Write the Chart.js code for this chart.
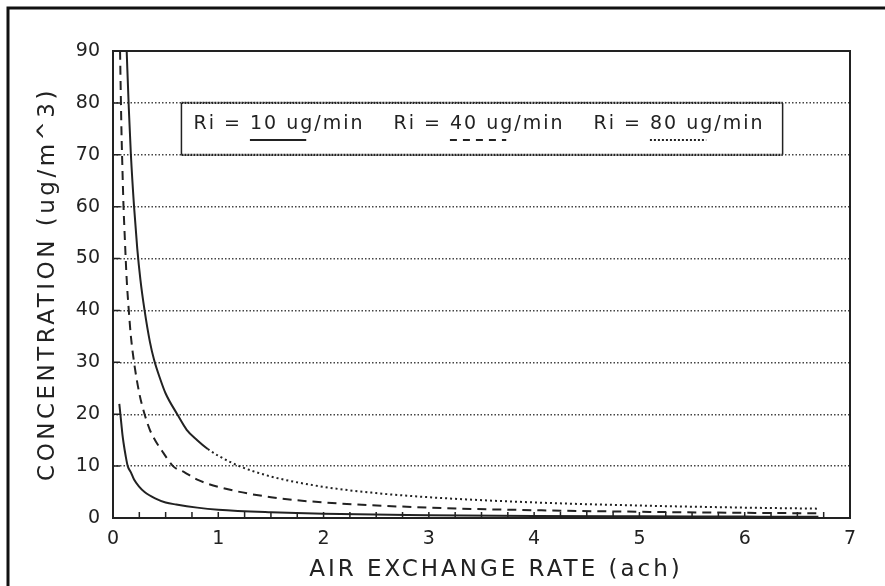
<!DOCTYPE html>
<html lang="en">
<head>
<meta charset="UTF-8">
<title>Concentration vs air exchange rate</title>
<script src="https://cdn.jsdelivr.net/npm/chart.js"></script>
<style>
  html, body { margin: 0; padding: 0; background: #fff; }
  canvas { display: block; }
</style>
</head>
<body>
<canvas id="chart" width="885" height="586"></canvas>
<script>
// values
const seriesLabels = ['10 ug/min', '40 ug/min', '80 ug/min'];

const achRi10  = [0.06, 0.07, 0.08, 0.09, 0.10, 0.12, 0.14, 0.17, 0.20, 0.25, 0.30, 0.40, 0.50, 0.60, 0.80, 1.0, 1.5, 2.0, 3.0, 4.0, 5.0, 6.0, 6.7];
const concRi10 = [22,   20,   18,   16,   14.5, 12,   10,   8.8,  7.4,  6.0,  5.0,  3.8,  3.0,  2.6,  2.0,  1.6, 1.1, 0.8, 0.55, 0.4, 0.32, 0.27, 0.24];

const achRi40  = [0.067, 0.08, 0.09, 0.10, 0.11, 0.13, 0.15, 0.17, 0.20, 0.25, 0.30, 0.35, 0.40, 0.48, 0.57, 0.68, 0.80, 1.0, 1.5, 2.0, 3.0, 4.0, 5.0, 6.0, 6.7];
const concRi40 = [90,    75,   67,   60,   55,   46,   40,   35,   30,   24,   20,   17,   15,   12.5, 10,   8.8,  7.4,  6.0, 4.0, 3.0, 2.0, 1.5, 1.2, 1.0, 0.9];

const achRi80  = [0.13, 0.15, 0.17, 0.20, 0.23, 0.26, 0.30, 0.35, 0.39, 0.45, 0.50, 0.61, 0.70, 0.80, 0.90, 1.0, 1.2, 1.5, 2.0, 2.5, 3.0, 4.0, 5.0, 6.0, 6.7];
const concRi80 = [90,   79,   70,   60,   52,   46,   40,   34,   30.5, 26.7, 24,   20,   17,   15,   13.3, 12,  10,  8.0, 6.0, 4.8, 4.0, 3.0, 2.4, 2.0, 1.8];

const xTicks = [0, 1, 2, 3, 4, 5, 6, 7];
const yTicks = [0, 10, 20, 30, 40, 50, 60, 70, 80, 90];

const ink = '#222';
const tickFont = { family: 'DejaVu Sans', size: 19 };

function pts(xs, ys) { return xs.map((x, i) => ({ x: x, y: ys[i] })); }

// frame, inner ticks, legend box, axis titles, scan border
const paperPlugin = {
  id: 'paper',
  afterDatasetsDraw(chart) {
    const { ctx, chartArea: a, scales: { x, y } } = chart;
    ctx.save();
    ctx.strokeStyle = ink;
    ctx.lineWidth = 2;
    ctx.strokeRect(a.left, a.top, a.right - a.left, a.bottom - a.top);

    // inner ticks
    ctx.lineWidth = 1.5;
    ctx.beginPath();
    for (let v = 0.25; v < 7; v += 0.25) {
      const px = x.getPixelForValue(v);
      ctx.moveTo(px, a.bottom); ctx.lineTo(px, a.bottom - 6);
    }
    yTicks.slice(1, -1).forEach(v => {
      const py = y.getPixelForValue(v);
      ctx.moveTo(a.left, py); ctx.lineTo(a.left + 7, py);
    });
    ctx.stroke();

    // legend box sits between the 70 and 80 grid lines
    const bx0 = x.getPixelForValue(0.65), bx1 = x.getPixelForValue(6.36);
    const by0 = y.getPixelForValue(80), by1 = y.getPixelForValue(70);
    ctx.fillStyle = '#fff';
    ctx.fillRect(bx0, by0, bx1 - bx0, by1 - by0);
    ctx.lineWidth = 1.5;
    ctx.beginPath();
    ctx.moveTo(bx0, by0); ctx.lineTo(bx0, by1);
    ctx.moveTo(bx1, by0); ctx.lineTo(bx1, by1);
    ctx.stroke();
    ctx.lineWidth = 2.2;
    ctx.setLineDash([2, 1]);
    ctx.beginPath();
    ctx.moveTo(bx0, by0); ctx.lineTo(bx1, by0);
    ctx.moveTo(bx0, by1); ctx.lineTo(bx1, by1);
    ctx.stroke();
    ctx.setLineDash([]);

    ctx.font = '19px "DejaVu Sans"';
    ctx.letterSpacing = '2px';
    ctx.fillStyle = ink;
    ctx.textBaseline = 'alphabetic';
    const dashes = [[], [7, 6], [2, 2]];
    seriesLabels.forEach((lab, i) => {
      const tx = bx0 + 12 + i * 200;
      const ty = by0 + 26;
      ctx.fillText('Ri = ' + lab, tx, ty);
      const u0 = tx + ctx.measureText('Ri = ').width;
      const u1 = tx + ctx.measureText('Ri = ' + lab.split('/')[0]).width - 8;
      ctx.setLineDash(dashes[i]);
      ctx.lineWidth = 2;
      ctx.beginPath();
      ctx.moveTo(u0, ty + 11); ctx.lineTo(u1, ty + 11);
      ctx.stroke();
    });
    ctx.setLineDash([]);

    // axis titles
    ctx.textAlign = 'center';
    ctx.textBaseline = 'middle';
    ctx.font = '23px "DejaVu Sans"';
    ctx.letterSpacing = '3px';
    ctx.fillText('AIR EXCHANGE RATE (ach)', 496, 570);
    ctx.translate(48, 284);
    ctx.rotate(-Math.PI / 2);
    ctx.letterSpacing = '3.5px';
    ctx.fillText('CONCENTRATION (ug/m^3)', 0, 0);
    ctx.restore();

    // border of the scanned sheet
    ctx.save();
    ctx.strokeStyle = '#111';
    ctx.lineWidth = 3;
    ctx.beginPath();
    ctx.moveTo(8, chart.height); ctx.lineTo(8, 8); ctx.lineTo(chart.width, 8);
    ctx.stroke();
    ctx.restore();
  }
};

new Chart(document.getElementById('chart'), {
  type: 'line',
  data: {
    datasets: [
      {
        label: 'Ri = ' + seriesLabels[0],
        data: pts(achRi10, concRi10),
        borderColor: ink, borderWidth: 2, pointRadius: 0,
        cubicInterpolationMode: 'monotone'
      },
      {
        label: 'Ri = ' + seriesLabels[1],
        data: pts(achRi40, concRi40),
        borderColor: ink, borderWidth: 2, pointRadius: 0,
        borderDash: [9, 6],
        cubicInterpolationMode: 'monotone'
      },
      {
        label: 'Ri = ' + seriesLabels[2],
        data: pts(achRi80, concRi80),
        borderColor: ink, borderWidth: 2, pointRadius: 0,
        cubicInterpolationMode: 'monotone',
        // plotter dots run together where the curve is steep
        segment: { borderDash: c => c.p0.parsed.y > 13.5 ? [] : [2, 3] }
      }
    ]
  },
  options: {
    responsive: false,
    animation: false,
    devicePixelRatio: 1,
    layout: { padding: { left: 0, top: 51, right: 35, bottom: 0 } },
    plugins: { legend: { display: false }, tooltip: { enabled: false } },
    scales: {
      x: {
        type: 'linear', min: 0, max: 7,
        afterBuildTicks: s => { s.ticks = xTicks.map(v => ({ value: v })); },
        afterFit: s => { s.height = 68; },
        grid: { display: false, drawTicks: false },
        border: { display: false },
        ticks: { color: ink, font: tickFont, padding: 10 }
      },
      y: {
        type: 'linear', min: 0, max: 90,
        afterBuildTicks: s => { s.ticks = yTicks.map(v => ({ value: v })); },
        afterFit: s => { s.width = 113; },
        grid: {
          drawTicks: false,
          lineWidth: 1.4,
          color: c => (c.tick.value === 0 || c.tick.value === 90) ? 'rgba(0,0,0,0)' : '#444'
        },
        border: { display: false, dash: [1.5, 2] },
        ticks: { color: ink, font: tickFont, padding: 13 }
      }
    }
  },
  plugins: [paperPlugin]
});
</script>
</body>
</html>
